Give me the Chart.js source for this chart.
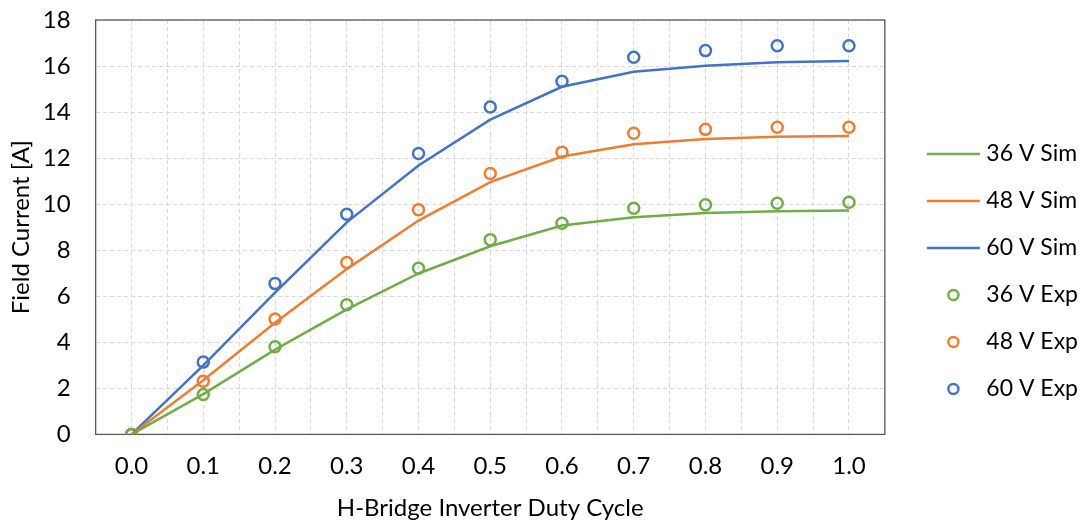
<!DOCTYPE html>
<html>
<head>
<meta charset="utf-8">
<script src="https://cdn.jsdelivr.net/npm/chart.js@4/dist/chart.umd.min.js"></script>
<style>
  html, body { margin:0; padding:0; background:#fff; }
  #wrap { width:1083px; height:523px; }
</style>
</head>
<body>
<div id="wrap"><canvas id="chart"></canvas></div>
<script>
// duty cycle (x) and field current (y) readings
const duty   = [0.0, 0.1, 0.2, 0.3, 0.4, 0.5, 0.6, 0.7, 0.8, 0.9, 1.0];
const sim36  = [0, 1.75, 3.68, 5.43, 6.99, 8.17, 9.07, 9.43, 9.62, 9.69, 9.72];
const sim48  = [0, 2.35, 4.85, 7.18, 9.29, 10.96, 12.07, 12.60, 12.83, 12.93, 12.96];
const sim60  = [0, 3.00, 6.16, 9.21, 11.68, 13.67, 15.10, 15.75, 16.01, 16.16, 16.22];
const exp36  = [0, 1.73, 3.81, 5.63, 7.22, 8.46, 9.17, 9.82, 9.97, 10.04, 10.08];
const exp48  = [0, 2.31, 5.01, 7.47, 9.76, 11.33, 12.26, 13.08, 13.25, 13.34, 13.34];
const exp60  = [0, 3.14, 6.55, 9.56, 12.20, 14.22, 15.34, 16.38, 16.67, 16.88, 16.88];
const seriesNames = ["36 V Sim", "48 V Sim", "60 V Sim", "36 V Exp", "48 V Exp", "60 V Exp"];

const GREEN = "#70AD47", ORANGE = "#ED7D31", BLUE = "#4472C4";
const FONT = "Lato";
const CLEAR = "rgba(0,0,0,0)";

const pts = arr => arr.map((v, i) => ({x: duty[i], y: v}));

// legend icons: box is 66 wide, icon canvas 80 wide centred on it
function lineIcon(color){
  let c = document.createElement("canvas");
  c.width = 80; c.height = 6;
  let g = c.getContext("2d");
  g.strokeStyle = color; g.lineWidth = 2.5;
  g.beginPath(); g.moveTo(25, 3); g.lineTo(78, 3); g.stroke();
  return c;
}
function circleIcon(color){
  let c = document.createElement("canvas");
  c.width = 80; c.height = 16;
  let g = c.getContext("2d");
  g.strokeStyle = color; g.lineWidth = 2.5;
  g.beginPath(); g.arc(51.5, 8, 5, 0, Math.PI*2); g.stroke();
  return c;
}

function simSet(i, data, color){
  return {label: seriesNames[i], data: pts(data), borderColor: color, backgroundColor: color,
    borderWidth: 2.5, pointRadius: 0, showLine: true, tension: 0, icon: lineIcon(color)};
}
function expSet(i, data, color){
  return {label: seriesNames[i], data: pts(data), borderColor: color, backgroundColor: CLEAR,
    showLine: false, pointStyle: "circle", pointRadius: 5.5, pointBorderWidth: 2.5, icon: circleIcon(color)};
}

const frame = {
  id: "frame",
  beforeDatasetsDraw(chart){
    let a = chart.chartArea, ctx = chart.ctx;
    ctx.save();
    ctx.strokeStyle = "#595959"; ctx.lineWidth = 1.3;
    ctx.strokeRect(a.left, a.top, a.right - a.left, a.bottom - a.top);
    ctx.restore();
  }
};

new Chart(document.getElementById("chart"), {
  type: "line",
  data: {
    datasets: [
      simSet(0, sim36, GREEN), simSet(1, sim48, ORANGE), simSet(2, sim60, BLUE),
      expSet(3, exp36, GREEN), expSet(4, exp48, ORANGE), expSet(5, exp60, BLUE)
    ]
  },
  options: {
    responsive: true, maintainAspectRatio: false, animation: false,
    layout: {padding: {top: 20, right: -5, bottom: 0, left: 7}},
    plugins: {
      tooltip: {enabled: false},
      legend: {
        position: "right",
        labels: {
          usePointStyle: true, pointStyleWidth: 66, padding: 24,
          color: "#000", font: {family: FONT, size: 23},
          generateLabels: chart => chart.data.datasets.map((d, i) => ({
            text: d.label, pointStyle: d.icon, fillStyle: CLEAR,
            strokeStyle: CLEAR, lineWidth: 0, hidden: false, datasetIndex: i, fontColor: "#000"
          }))
        }
      }
    },
    scales: {
      x: {
        type: "linear", min: -0.05, max: 1.05,
        grid: {color: "#d9d9d9", drawTicks: true, tickLength: 15, tickColor: CLEAR},
        border: {display: false, dash: [4, 3]},
        ticks: {
          stepSize: 0.05, autoSkip: false, maxRotation: 0, padding: 2,
          color: "#000", font: {family: FONT, size: 24},
          callback: v => (Math.round(v * 100) % 10 === 0 ? v.toFixed(1) : "")
        },
        title: {display: true, text: "H-Bridge Inverter Duty Cycle", color: "#000",
          font: {family: FONT, size: 24}, padding: {top: 12, bottom: 0}}
      },
      y: {
        min: 0, max: 18,
        grid: {color: "#d9d9d9", drawTicks: true, tickLength: 22, tickColor: CLEAR},
        border: {display: false, dash: [4, 3]},
        ticks: {stepSize: 2, padding: 3, color: "#000", font: {family: FONT, size: 24}},
        title: {display: true, text: "Field Current [A]", color: "#000",
          font: {family: FONT, size: 24}, padding: {top: 0, bottom: 4}}
      }
    }
  },
  plugins: [frame]
});
</script>
</body>
</html>
